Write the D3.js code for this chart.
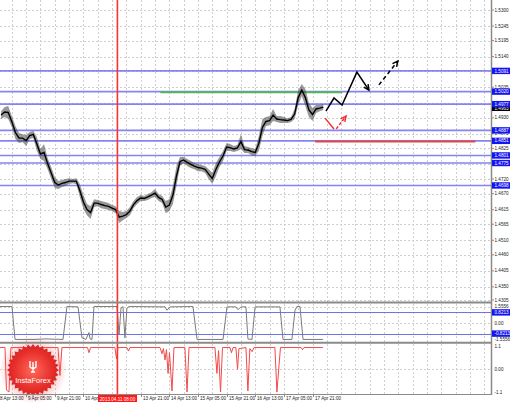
<!DOCTYPE html>
<html>
<head>
<meta charset="utf-8">
<script src="https://cdn.jsdelivr.net/npm/d3@7"></script>
<style>
  body { margin: 0; background: #fff; }
  svg { display: block; }
  text { font-family: "Liberation Sans", Arial, sans-serif; }
</style>
</head>
<body>
<svg id="chart" width="510" height="403"></svg>
<script>
/* ── Data ─────────────────────────────── */

// price axis labels (right)
const priceTicks = ['1.5300','1.5245','1.5195','1.5140','1.5090','1.5035','1.4980','1.4930','1.4875','1.4825',
                    '1.4770','1.4720','1.4670','1.4615','1.4565','1.4510','1.4460','1.4405','1.4350','1.4305'];

// time axis labels, one every 16 bars (H1)
const timeLabels = ['8 Apr 13:00','9 Apr 05:00','9 Apr 21:00','10 Apr 13:00','11 Apr 05:00','13 Apr 21:00',
                    '14 Apr 13:00','15 Apr 05:00','15 Apr 21:00','16 Apr 13:00','17 Apr 05:00','17 Apr 21:00'];

// price bars, sampled every 2 bars starting at bar 2
const priceHi = [1.4953,1.4967,1.4971,1.4936,1.4902,1.4878,1.4874,1.4871,1.4881,1.4885,
                 1.4864,1.4823,1.4840,1.4792,1.4761,1.4727,1.4713,1.4717,1.4720,1.4723,
                 1.4720,1.4723,1.4703,1.4665,1.4634,1.4627,1.4651,1.4648,1.4645,1.4641,
                 1.4638,1.4631,1.4627,1.4610,1.4607,1.4610,1.4624,1.4645,1.4658,1.4665,
                 1.4662,1.4669,1.4675,1.4686,1.4669,1.4662,1.4645,1.4651,1.4696,1.4765,
                 1.4796,1.4796,1.4789,1.4782,1.4775,1.4772,1.4768,1.4765,1.4754,1.4741,
                 1.4775,1.4796,1.4816,1.4844,1.4840,1.4833,1.4837,1.4874,1.4833,1.4830,
                 1.4826,1.4823,1.4868,1.4926,1.4933,1.4936,1.4960,1.4936,1.4936,1.4933,
                 1.4929,1.4933,1.4960,1.5025,1.5046,1.5029,1.4981,1.4964,1.4974,1.4974,
                 1.4977];
const priceLo = [1.4926,1.4933,1.4926,1.4898,1.4857,1.4844,1.4847,1.4833,1.4857,1.4861,
                 1.4816,1.4789,1.4782,1.4754,1.4720,1.4689,1.4686,1.4693,1.4696,1.4703,
                 1.4706,1.4703,1.4658,1.4617,1.4596,1.4583,1.4624,1.4627,1.4620,1.4617,
                 1.4614,1.4610,1.4603,1.4569,1.4579,1.4586,1.4596,1.4620,1.4634,1.4645,
                 1.4645,1.4648,1.4655,1.4658,1.4645,1.4638,1.4603,1.4610,1.4634,1.4696,
                 1.4765,1.4775,1.4765,1.4758,1.4754,1.4747,1.4747,1.4741,1.4720,1.4703,
                 1.4730,1.4761,1.4782,1.4816,1.4816,1.4813,1.4816,1.4823,1.4809,1.4809,
                 1.4802,1.4799,1.4816,1.4868,1.4902,1.4905,1.4919,1.4916,1.4912,1.4912,
                 1.4912,1.4916,1.4926,1.4974,1.5005,1.4971,1.4933,1.4919,1.4947,1.4953,
                 1.4957];
const lastPrice = 1.4963;

// horizontal levels
const levelPrice = [1.5091, 1.5020, 1.4977, 1.4887, 1.4851, 1.4801, 1.4775, 1.4698];
const levelLabel = ['1.5091','1.5020','1.4977','1.4887','1.4851','1.4801','1.4775','1.4698'];
const greenLevel = { from: 91, to: 192.5, price: 1.5018 };
const redLevel = { from: 177.5, to: 267, price: 1.4849 };
const cursorBar = 67;
const cursorLabel = '2013.04.11 08:00';

// forecast drawing (bar, price)
const fcBlackSolid = [[183.5,1.4953],[188,1.4998],[192.5,1.4974],[200.8,1.5087],[207.5,1.5025]];
const fcBlackDash  = [[213.1,1.5043],[223.7,1.5125]];
const fcRedSolid   = [[183,1.4929],[188,1.4892]];
const fcRedDash    = [[189.3,1.4892],[194.7,1.4936]];

// oscillator window 1 (gray)
const oscBar = [1.4,8.1,9.8,20.9,26.5,36.6,38.8,45,47.2,49.4,51.1,51.7,52.8,53.9,66.8,67.9,69,70.1,71.2,72.3,
                73.5,93.6,94.7,96.4,109.2,111.5,126,128.2,133.2,134.4,136,138.8,139.9,142.2,143.9,157.8,159.5,
                164.5,166.2,167.3,169,170.7,181.8];
const oscVal = [1.55,1.55,-1.55,-1.55,-1.5,-1.55,1.55,1.52,-1.4,-1.55,-0.9,-1.5,-1.55,1.55,1.55,-1.1,1.4,1.55,-1.4,1.4,
                1.55,1.52,1.2,1.52,1.55,-1.55,-1.55,1.52,1.52,1.25,1.52,1.52,-1.5,-1.55,1.52,1.52,-1.55,
                -1.55,1.2,1.55,1.55,-1.55,-1.55];
const oscLevels = [1.0, -1.0];
const oscLevelLabel = ['0.8213', '-0.8213'];

// oscillator window 2 (red)
const sigBar = [1.4,4.2,5,6.4,7.5,33.8,34.9,36,50.3,51.1,52,65.6,66.5,67.3,72.3,73.2,74,90.8,91.9,92.7,93.6,94.4,
                95.3,96.1,97.5,98.6,104.7,105.9,107,121.5,122.6,123.5,124.6,125.7,129.9,130.7,131.6,133.2,134.1,
                134.9,138.8,139.9,141,142.2,143.3,155,156.1,157.3,158.1,169.6,170.4,171.2,181.8];
const sigVal = [1.05,1.05,-1.0,-1.1,1.05,1.05,-0.3,1.05,1.05,0.8,1.05,1.05,0.5,1.05,1.05,0.88,1.05,1.05,0.75,1.0,0.45,0.95,
                -0.2,0.8,-1.05,1.05,1.05,-1.1,1.05,1.05,-0.2,0.9,-1.1,1.05,1.05,0.8,1.05,1.05,0.0,
                1.0,1.05,-1.05,1.0,0.85,1.05,1.05,-1.1,0.2,1.05,1.05,0.95,1.05,1.05];

/* ── Layout ───────────────────────────── */

const svg = d3.select('#chart');
const W = 510, plotR = 491;
const main = { top: 0, bottom: 301 };
const p2 = { top: 304, bottom: 341.5 };
const p3 = { top: 344, bottom: 394 };

const x = d3.scaleLinear().domain([0, 276]).range([-2.5, 491.5]);
const y = d3.scaleLinear().domain([1.4305, 1.5300]).range([300, 10]);
const y2 = d3.scaleLinear().domain([-1.5556, 1.5556]).range([339.5, 306.5]);
const y3 = d3.scaleLinear().domain([-1.1, 1.1]).range([392, 346.5]);
const px = v => Math.round(v) + 0.5;   // snap hairlines to pixel centres

const gridCol = '#cfcfcf', axisCol = '#8a8a8a', levelCol = '#8585f2';

const defs = svg.append('defs');
[['clipMain', main], ['clipP2', p2], ['clipP3', p3]].forEach(([id, p]) => {
    defs.append('clipPath').attr('id', id).append('rect')
        .attr('x', 0).attr('y', p.top).attr('width', plotR).attr('height', p.bottom - p.top);
});

// ── Grid ──
const grid = svg.append('g').attr('stroke', gridCol).attr('stroke-width', 1)
    .attr('stroke-dasharray', '2,2').attr('shape-rendering', 'crispEdges');
d3.range(0, 277, 8).forEach(b => {
    grid.append('line').attr('x1', px(x(b))).attr('x2', px(x(b))).attr('y1', 0).attr('y2', p3.bottom);
});
priceTicks.forEach(t => {
    grid.append('line').attr('x1', 0).attr('x2', plotR).attr('y1', px(y(+t))).attr('y2', px(y(+t)));
});
[0, 1.5556].forEach(v => grid.append('line').attr('x1', 0).attr('x2', plotR).attr('y1', px(y2(v))).attr('y2', px(y2(v))));
grid.append('line').attr('x1', 0).attr('x2', plotR).attr('y1', px(y3(0))).attr('y2', px(y3(0)));

// ── Levels ──
const gMain = svg.append('g').attr('clip-path', 'url(#clipMain)');
levelPrice.forEach(p => {
    gMain.append('line').attr('x1', 0).attr('x2', plotR).attr('y1', y(p)).attr('y2', y(p))
        .attr('stroke', levelCol).attr('stroke-width', 1.6);
});
gMain.append('line').attr('x1', x(greenLevel.from)).attr('x2', x(greenLevel.to))
    .attr('y1', y(greenLevel.price)).attr('y2', y(greenLevel.price))
    .attr('stroke', '#55b560').attr('stroke-width', 2);
gMain.append('line').attr('x1', x(redLevel.from)).attr('x2', x(redLevel.to))
    .attr('y1', y(redLevel.price)).attr('y2', y(redLevel.price))
    .attr('stroke', '#e54545').attr('stroke-width', 2);

// ── Price bars ──
const bars = priceHi.map((h, i) => ({ bar: 2 + i * 2, hi: h, lo: priceLo[i] }));
gMain.append('path').datum(bars)
    .attr('fill', '#444').attr('fill-opacity', 0.55).attr('stroke', 'none')
    .attr('d', d3.area().x(d => x(d.bar)).y0(d => y(d.lo)).y1(d => y(d.hi)));
gMain.append('path').datum(bars)
    .attr('fill', 'none').attr('stroke', '#000').attr('stroke-width', 1.4)
    .attr('d', d3.line().x(d => x(d.bar)).y(d => y((d.hi + d.lo) / 2)));

// ── Forecast arrows ──
function arrowHead(g, pts, color) {
    const a = pts[pts.length - 2], b = pts[pts.length - 1];
    const x1 = x(a[0]), y1 = y(a[1]), x2 = x(b[0]), y2p = y(b[1]);
    const ang = Math.atan2(y2p - y1, x2 - x1), L = 6, s = 0.45;
    const p1 = [x2 - L * Math.cos(ang - s), y2p - L * Math.sin(ang - s)];
    const p3p = [x2 - L * Math.cos(ang + s), y2p - L * Math.sin(ang + s)];
    g.append('path').attr('d', `M${p1}L${x2},${y2p}L${p3p}`)
        .attr('fill', 'none').attr('stroke', color).attr('stroke-width', 1.5);
}
const fcLine = d3.line().x(d => x(d[0])).y(d => y(d[1]));
const gFc = svg.append('g').attr('clip-path', 'url(#clipMain)');
gFc.append('path').attr('d', fcLine(fcBlackSolid)).attr('fill', 'none').attr('stroke', '#000').attr('stroke-width', 1.5);
arrowHead(gFc, fcBlackSolid, '#000');
gFc.append('path').attr('d', fcLine(fcBlackDash)).attr('fill', 'none').attr('stroke', '#000')
    .attr('stroke-width', 1.5).attr('stroke-dasharray', '4,3');
arrowHead(gFc, fcBlackDash, '#000');
gFc.append('path').attr('d', fcLine(fcRedSolid)).attr('fill', 'none').attr('stroke', '#f03030').attr('stroke-width', 1.5);
gFc.append('path').attr('d', fcLine(fcRedDash)).attr('fill', 'none').attr('stroke', '#f03030')
    .attr('stroke-width', 1.5).attr('stroke-dasharray', '3,2');
arrowHead(gFc, fcRedDash, '#f03030');

// ── Oscillator 1 ──
const g2 = svg.append('g').attr('clip-path', 'url(#clipP2)');
oscLevels.forEach(v => g2.append('line').attr('x1', 0).attr('x2', plotR).attr('y1', px(y2(v))).attr('y2', px(y2(v)))
    .attr('stroke', '#7070ea').attr('stroke-width', 1));
g2.append('path').datum(oscBar.map((b, i) => [b, oscVal[i]]))
    .attr('fill', 'none').attr('stroke', '#7a7a7a').attr('stroke-width', 1)
    .attr('d', d3.line().x(d => x(d[0])).y(d => y2(d[1])));

// ── Oscillator 2 ──
const g3 = svg.append('g').attr('clip-path', 'url(#clipP3)');
g3.append('path').datum(sigBar.map((b, i) => [b, sigVal[i]]))
    .attr('fill', 'none').attr('stroke', '#f24a4a').attr('stroke-width', 1)
    .attr('d', d3.line().x(d => x(d[0])).y(d => y3(d[1])));

// ── Logo ──
const logo = svg.append('g').attr('transform', 'translate(33,370)');
const rg = defs.append('radialGradient').attr('id', 'lg');
rg.append('stop').attr('offset', '0%').attr('stop-color', '#ff6a5a');
rg.append('stop').attr('offset', '70%').attr('stop-color', '#e8312c');
rg.append('stop').attr('offset', '100%').attr('stop-color', '#d82222');
const halo = defs.append('radialGradient').attr('id', 'halo');
halo.append('stop').attr('offset', '60%').attr('stop-color', '#f05050').attr('stop-opacity', 0.35);
halo.append('stop').attr('offset', '100%').attr('stop-color', '#f05050').attr('stop-opacity', 0);
logo.append('circle').attr('r', 34).attr('fill', 'url(#halo)');
const teeth = d3.range(64).map(i => {
    const a = i / 64 * Math.PI * 2, r = i % 2 ? 23 : 26;
    return [r * Math.cos(a), r * Math.sin(a)];
});
logo.append('path').attr('d', d3.line()(teeth) + 'Z').attr('fill', 'url(#lg)');
logo.append('path').attr('d', 'M-3,-9 L-3,-3 Q0,0 3,-3 L3,-9 M0,-8 L0,2 M-2,2 L2,2')
    .attr('fill', 'none').attr('stroke', '#fff').attr('stroke-width', 1.4);
logo.append('text').attr('x', 0).attr('y', 12.5).attr('text-anchor', 'middle')
    .attr('fill', '#fff').attr('font-size', 7.5).text('InstaForex');

// ── Cursor line ──
svg.append('line').attr('x1', x(cursorBar)).attr('x2', x(cursorBar)).attr('y1', 0).attr('y2', p3.bottom)
    .attr('stroke', '#ff3030').attr('stroke-width', 1.6);

// ── Frames ──
svg.append('line').attr('x1', plotR + 0.5).attr('x2', plotR + 0.5).attr('y1', 0).attr('y2', p3.bottom + 1)
    .attr('stroke', axisCol).attr('stroke-width', 1.5);
[main.bottom + 1.5, p2.bottom + 1.3].forEach(v => svg.append('line').attr('x1', 0).attr('x2', plotR + 1)
    .attr('y1', v).attr('y2', v).attr('stroke', axisCol).attr('stroke-width', 2));
svg.append('line').attr('x1', 0).attr('x2', plotR + 1).attr('y1', p3.bottom + 0.5).attr('y2', p3.bottom + 0.5)
    .attr('stroke', axisCol).attr('stroke-width', 1);

// ── Right axis ──
const fs = 4.6;
const ax = svg.append('g').attr('font-size', fs).attr('fill', '#222');
priceTicks.forEach(t => {
    ax.append('line').attr('x1', plotR).attr('x2', plotR + 3).attr('y1', y(+t)).attr('y2', y(+t)).attr('stroke', axisCol);
    ax.append('text').attr('x', plotR + 3.5).attr('y', y(+t)).attr('dy', '0.35em').text(t);
});
[[1.5556, '1.5556'], [0, '0.00'], [-1.5556, '-1.5556']].forEach(([v, t]) => {
    ax.append('text').attr('x', plotR + 3.5).attr('y', y2(v)).attr('dy', '0.35em').text(t);
});
[[1.1, '1.1'], [0, '0.00'], [-1.1, '-1.1']].forEach(([v, t]) => {
    ax.append('text').attr('x', plotR + 3.5).attr('y', y3(v)).attr('dy', '0.35em').text(t);
});

function tag(yy, txt, fill, h) {
    ax.append('rect').attr('x', plotR + 1).attr('y', yy - h / 2).attr('width', W - plotR - 1).attr('height', h).attr('fill', fill);
    ax.append('text').attr('x', plotR + 3.5).attr('y', yy).attr('dy', '0.35em').attr('fill', '#fff').text(txt);
}
tag(y(lastPrice), lastPrice.toFixed(4), '#000', 5.6);
levelPrice.forEach((p, i) => tag(y(p), levelLabel[i], '#1414f0', 6.4));
oscLevels.forEach((v, i) => tag(y2(v), oscLevelLabel[i], '#1414f0', 6.4));

// ── Time axis ──
const cx = px(x(cursorBar));
const boxL = cx - 19.5, boxR = cx + 19.5;
const tx = svg.append('g').attr('font-size', fs).attr('fill', '#222');
timeLabels.forEach((t, i) => {
    const xx = px(x(i * 16));
    if (xx >= boxL - 1 && xx <= boxR) return;          // hidden under cursor label
    tx.append('line').attr('x1', xx).attr('x2', xx).attr('y1', p3.bottom).attr('y2', p3.bottom + 3).attr('stroke', axisCol);
    // a label running into the cursor tag only shows its date part
    const txt = (xx < boxL && xx + 28 > boxL) ? t.split(' ').slice(0, 2).join(' ') : t;
    tx.append('text').attr('x', xx + 1.5).attr('y', 400).text(txt);
});
tx.append('rect').attr('x', boxL).attr('y', 395).attr('width', 39).attr('height', 7).attr('fill', '#ff1a1a');
tx.append('text').attr('x', cx).attr('y', 400.5).attr('text-anchor', 'middle').attr('fill', '#fff').text(cursorLabel);
</script>
</body>
</html>
